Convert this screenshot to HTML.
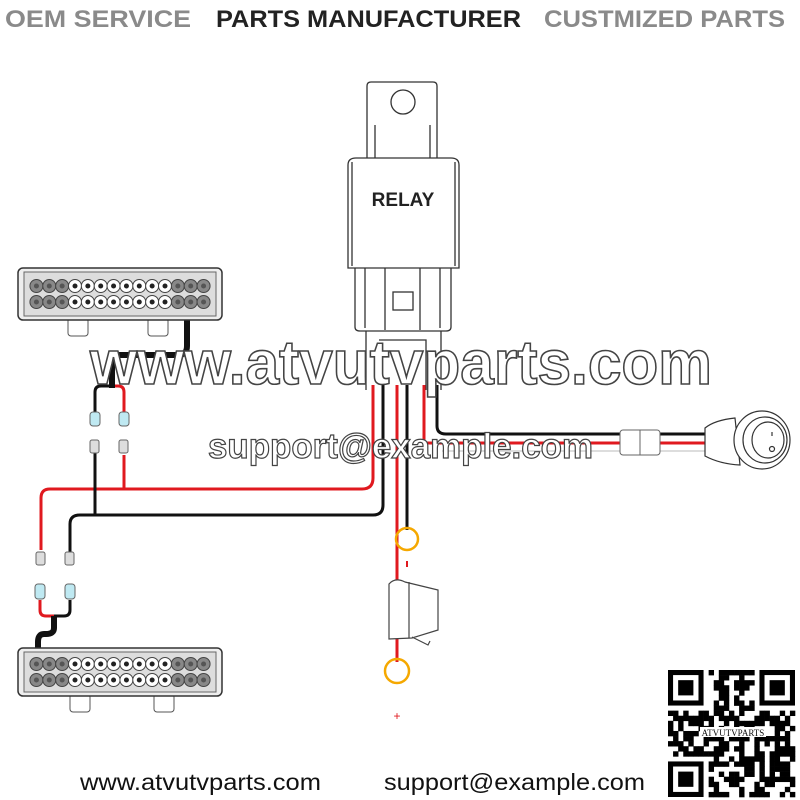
<!DOCTYPE html>
<html><head><meta charset="utf-8"><style>
html,body{margin:0;padding:0;background:#fff;width:800px;height:800px;overflow:hidden}
svg{display:block}
</style></head><body>
<svg id="s" width="800" height="800" viewBox="0 0 800 800" xmlns="http://www.w3.org/2000/svg" font-family="Liberation Sans, sans-serif">
<rect width="800" height="800" fill="#fff"/>
<!-- header -->
<text x="5" y="27" font-size="24" font-weight="bold" fill="#8a8a8a" textLength="186" lengthAdjust="spacingAndGlyphs">OEM SERVICE</text>
<text x="216" y="27" font-size="24" font-weight="bold" fill="#222" textLength="305" lengthAdjust="spacingAndGlyphs">PARTS MANUFACTURER</text>
<text x="544" y="27" font-size="24" font-weight="bold" fill="#8a8a8a" textLength="241" lengthAdjust="spacingAndGlyphs">CUSTMIZED PARTS</text>

<!-- relay -->
<g fill="#fff" stroke="#333" stroke-width="1.3">
<path d="M367 160 V86 Q367 82 371 82 H433 Q437 82 437 86 V160"/>
<circle cx="403" cy="102" r="12"/>
<line x1="375" y1="125" x2="375" y2="160"/><line x1="430" y1="125" x2="430" y2="160"/>
<path d="M355 268 L355 327 Q355 331 360 331 H446 Q451 331 451 327 V268"/>
<line x1="365" y1="268" x2="365" y2="328"/><line x1="385" y1="268" x2="385" y2="330"/><line x1="420" y1="268" x2="420" y2="330"/><line x1="440" y1="268" x2="440" y2="328"/>
<rect x="393" y="292" width="20" height="18"/>
<path d="M348 268 V165 Q348 158 356 158 H451 Q459 158 459 165 V268 Z"/>
<line x1="352" y1="162" x2="352" y2="266"/><line x1="455" y1="162" x2="455" y2="266"/>
<path d="M366 331 V390 M441 331 V390 M379 340 H426 V390"/>
</g>
<text x="403" y="206" font-size="19" font-weight="bold" fill="#222" text-anchor="middle">RELAY</text>

<!-- wires relay -->
<g fill="none" stroke-width="3">
<path d="M373 385 V478 Q373 489 362 489 H50 Q41 489 41 498 V550" stroke="#e0191f"/>
<path d="M383 385 V505 Q383 515 373 515 H80 Q70 515 70 524 V552" stroke="#111"/>
<path d="M397 385 V658" stroke="#e0191f"/>
<path d="M407 385 V530" stroke="#111"/>
<path d="M424 385 V443 H705" stroke="#e0191f"/>
<path d="M437 385 V426 Q437 434 446 434 H705" stroke="#111"/>
<path d="M442 451 H705" stroke="#ddd" stroke-width="2"/>
<path d="M397 640 V662" stroke="#e0191f"/>
<path d="M95 440 V515" stroke="#111"/>
<path d="M124 455 V489" stroke="#e0191f"/>
<path d="M95 412 V392 Q95 386 101 386 H112" stroke="#111"/>
<path d="M112 386 H118 Q124 386 124 392 V412" stroke="#e0191f"/>
<path d="M112 388 V363 Q112 355 120 355 H178 Q187 355 187 346 V318" stroke="#111" stroke-width="6"/>
<path d="M40 600 V610 Q40 616 46 616 H54" stroke="#e0191f"/>
<path d="M70 600 V610 Q70 616 64 616 H54" stroke="#111"/>
<path d="M54 616 V628 Q54 634 46 634 H44 Q38 634 38 642 V650" stroke="#111" stroke-width="6"/>
</g>
<!-- connectors -->
<g stroke="#666" stroke-width="1">
<rect x="90" y="412" width="10" height="14" rx="3" fill="#bfe9f2"/>
<rect x="119" y="412" width="10" height="14" rx="3" fill="#bfe9f2"/>
<rect x="90" y="440" width="9" height="13" rx="2" fill="#ddd"/>
<rect x="119" y="440" width="9" height="13" rx="2" fill="#ddd"/>
<rect x="36" y="552" width="9" height="13" rx="2" fill="#ddd"/>
<rect x="65" y="552" width="9" height="13" rx="2" fill="#ddd"/>
<rect x="35" y="584" width="10" height="15" rx="3" fill="#bfe9f2"/>
<rect x="65" y="584" width="10" height="15" rx="3" fill="#bfe9f2"/>
<rect x="620" y="430" width="40" height="25" rx="3" fill="#fff"/>
<line x1="640" y1="430" x2="640" y2="455"/>
</g>
<!-- switch -->
<g fill="#fff" stroke="#333" stroke-width="1.2">
<path d="M705 428 Q715 420 735 418 L740 465 Q720 464 705 456 Z"/>
<ellipse cx="762" cy="440" rx="28" ry="29"/>
<ellipse cx="765" cy="440" rx="22" ry="23"/>
<ellipse cx="768" cy="440" rx="16" ry="18"/>
<circle cx="772" cy="449" r="2.5"/>
<line x1="772" y1="432" x2="772" y2="436"/>
</g>
<!-- rings & fuse -->
<g fill="none" stroke="#f5a800" stroke-width="2.5">
<circle cx="407" cy="539" r="11"/><circle cx="397" cy="671" r="12"/>
</g>
<line x1="407" y1="561" x2="407" y2="567" stroke="#e0191f" stroke-width="2"/>
<text x="397" y="720" font-size="12" fill="#e0191f" text-anchor="middle">+</text>
<g fill="#fff" stroke="#444" stroke-width="1.2">
<path d="M389 584 Q395 577 405 582 L438 590 V630 L412 638 L389 639 Z"/>
<line x1="409" y1="582" x2="409" y2="638"/>
<path d="M412 637 L428 645 L430 641"/>
</g>

<g id="bars"></g>

<!-- watermark -->
<text x="90" y="384" font-size="62" font-weight="bold" fill="#fff" stroke="#444" stroke-width="1.6" textLength="622" lengthAdjust="spacingAndGlyphs">www.atvutvparts.com</text>
<text x="208" y="458" font-size="35" font-weight="bold" fill="#fff" stroke="#444" stroke-width="1.2" textLength="385" lengthAdjust="spacingAndGlyphs">support@example.com</text>

<g id="qr"></g>
<rect x="700" y="727" width="66" height="10" fill="#fff"/>
<text x="733" y="736" font-size="9" font-family="Liberation Serif, serif" text-anchor="middle" fill="#111">ATVUTVPARTS</text>

<!-- footer -->
<text x="80" y="790" font-size="23" fill="#111" textLength="241" lengthAdjust="spacingAndGlyphs">www.atvutvparts.com</text>
<text x="384" y="790" font-size="23" fill="#111" textLength="261" lengthAdjust="spacingAndGlyphs">support@example.com</text>
</svg>
<script>
var NS="http://www.w3.org/2000/svg";
function el(p,t,a){var e=document.createElementNS(NS,t);for(var k in a)e.setAttribute(k,a[k]);p.appendChild(e);return e;}
var bars=document.getElementById('bars');
function bar(x,y,w,h,m1,m2){
 el(bars,'rect',{x:m1,y:y+h-2,width:20,height:18,rx:3,fill:'#fff',stroke:'#555'});
 el(bars,'rect',{x:m2,y:y+h-2,width:20,height:18,rx:3,fill:'#fff',stroke:'#555'});
 el(bars,'rect',{x:x,y:y,width:w,height:h,rx:5,fill:'#eee',stroke:'#333','stroke-width':1.5});
 el(bars,'rect',{x:x+6,y:y+4,width:w-12,height:h-8,fill:'#ddd',stroke:'#666'});
 var n=14,sp=(w-24)/n;
 for(var r=0;r<2;r++)for(var i=0;i<n;i++){
  var cx=x+12+sp*(i+0.5),cy=y+h/2+(r?8:-8);
  var side=(i<3||i>=n-3);
  el(bars,'circle',{cx:cx,cy:cy,r:6.5,fill:side?'#888':'#fff',stroke:'#444','stroke-width':1});
  el(bars,'circle',{cx:cx,cy:cy,r:2.5,fill:side?'#555':'#222'});
 }
}
bar(18,268,204,52,68,148);
bar(18,648,204,48,70,154);
var qr=document.getElementById('qr');
el(qr,'rect',{x:668,y:670,width:127,height:127,fill:'#fff'});
var N=25,c=127/N,seed=7;
function rnd(){seed=(seed*9301+49297)%233280;return seed/233280;}
function finder(ix,iy){el(qr,'rect',{x:668+ix*c,y:670+iy*c,width:7*c,height:7*c,fill:'#000'});
 el(qr,'rect',{x:668+(ix+1)*c,y:670+(iy+1)*c,width:5*c,height:5*c,fill:'#fff'});
 el(qr,'rect',{x:668+(ix+2)*c,y:670+(iy+2)*c,width:3*c,height:3*c,fill:'#000'});}
for(var i=0;i<N;i++)for(var j=0;j<N;j++){
 if((i<8&&j<8)||(i>=N-8&&j<8)||(i<8&&j>=N-8))continue;
 if(rnd()<0.5)el(qr,'rect',{x:668+i*c,y:670+j*c,width:c+0.3,height:c+0.3,fill:'#000'});
}
finder(0,0);finder(N-7,0);finder(0,N-7);
</script>
</body></html>
